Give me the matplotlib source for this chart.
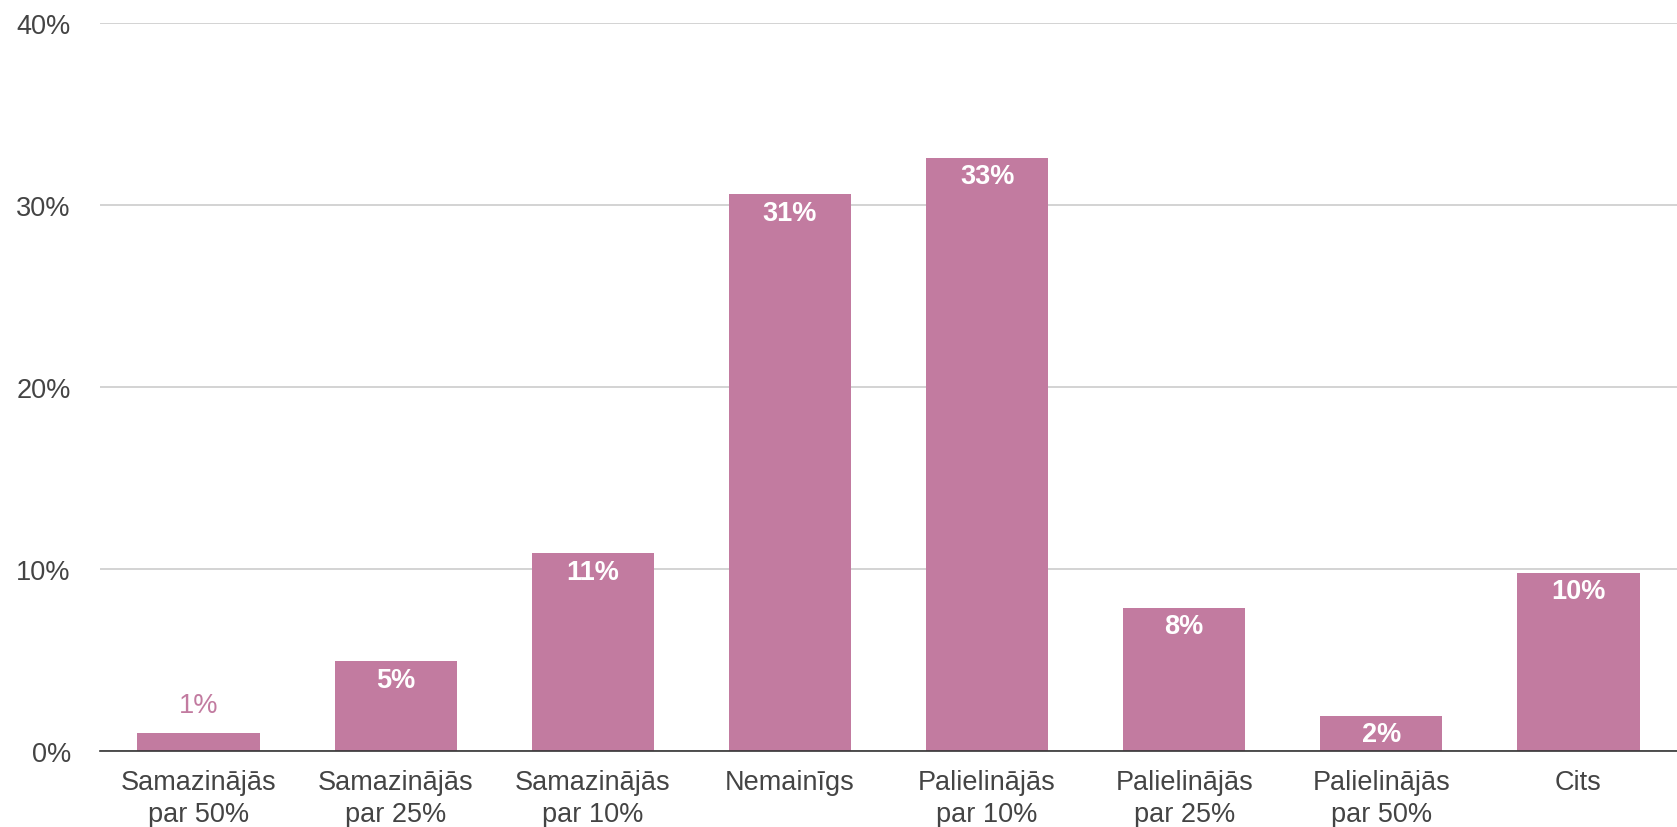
import matplotlib
matplotlib.use("Agg")
import matplotlib.pyplot as plt
from matplotlib.ticker import FuncFormatter

categories = ["Samazinājās\npar 50%", "Samazinājās\npar 25%", "Samazinājās\npar 10%",
              "Nemainīgs", "Palielinājās\npar 10%", "Palielinājās\npar 25%",
              "Palielinājās\npar 50%", "Cits"]
values = [1.0, 4.93, 10.87, 30.6, 32.6, 7.87, 1.94, 9.8]
labels = ["1%", "5%", "11%", "31%", "33%", "8%", "2%", "10%"]
yticks = [0, 10, 20, 30, 40]

plt.rcParams['font.family'] = ['Liberation Sans', 'DejaVu Sans']
color = "#C27BA0"
fs = 19.5

fig = plt.figure(figsize=(16.77, 8.28), dpi=100)
ax = fig.add_axes([100/1677, 1 - 752/828, 1 - 100/1677, (752 - 24)/828])

x = list(range(len(categories)))
bars = ax.bar(x, values, width=0.62, color=color, zorder=3)

for xi, v, lab in zip(x, values, labels):
    if v < 1.5:
        ax.annotate(lab, (xi, v), xytext=(0, 11), textcoords="offset points",
                    ha="center", va="bottom", color=color, fontsize=fs)
    else:
        ax.annotate(lab, (xi, v), xytext=(0, -4), textcoords="offset points",
                    ha="center", va="top", color="white", fontsize=fs,
                    fontweight="bold")

ax.set_xlim(-0.5, len(categories) - 0.5)
ax.set_ylim(0, 40)
ax.set_yticks(yticks)
ax.yaxis.set_major_formatter(FuncFormatter(lambda v, p: f"{int(v)}%"))
ax.set_xticks(x)
ax.set_xticklabels(categories, linespacing=1.3)
ax.tick_params(axis="both", length=0, labelsize=fs, labelcolor="#444444")
ax.tick_params(axis="y", pad=21)
ax.tick_params(axis="x", pad=13)
ax.grid(axis="y", color="#cccccc", linewidth=1.2, zorder=0)
for s in ["top", "right", "left"]:
    ax.spines[s].set_visible(False)
ax.spines["bottom"].set_color("#333333")
ax.spines["bottom"].set_linewidth(1.2)
ax.spines["bottom"].set_zorder(4)

fig.savefig("out.png", dpi=100, facecolor="white")
